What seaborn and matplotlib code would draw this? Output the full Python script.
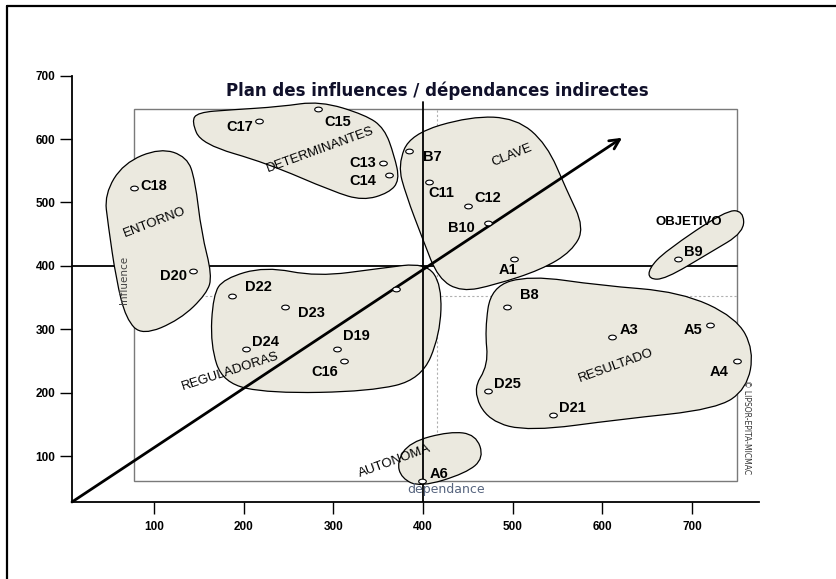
import numpy as np
import matplotlib
matplotlib.use("Agg")
import matplotlib.pyplot as plt
import seaborn as sns
from matplotlib.path import Path
from matplotlib.patches import PathPatch, Rectangle
from matplotlib.lines import Line2D
from matplotlib.transforms import Affine2D

# variables: indirect dependance (x) / influence (y)
names = ["A1", "A2", "A3", "A4", "A5", "A6", "B7", "B8", "B9", "B10",
         "C11", "C12", "C13", "C14", "C15", "C16", "C17", "C18",
         "D19", "D20", "D21", "D22", "D23", "D24", "D25"]
dependance = [501, 370, 611, 750, 720, 399, 384, 494, 684, 472,
              407, 450, 355, 362, 283, 312, 217, 78,
              304, 144, 545, 187, 246, 203, 472]
influence = [411, 364, 288, 250, 307, 61, 581, 335, 411, 468,
             532, 494, 562, 543, 647, 250, 628, 523,
             269, 392, 165, 353, 335, 269, 203]
# label offsets (points) from each point; None = label not shown
label_dx = [-4, None, 12, -13, -12, 12, 17, 16, 11, -19,
            9, 14, -14, -19, 14, -14, -14, 14,
            14, -14, 14, 19, 19, 14, 14]
label_dy = [-8, None, 5, -8, -4, 5, -4, 9, 5, -4,
            -8, 6, 0, -4, -9, -8, -4, 1,
            9, -4, 5, 6, -4, 5, 5]

# groups drawn as closed outlines (control points)
groups = {
    "DETERMINANTES": ([142, 153, 226, 300, 333, 362, 374, 368, 357, 336, 285, 241, 185, 149],
                      [628, 592, 562, 517, 503, 515, 535, 574, 617, 638, 660, 651, 646, 642]),
    "ENTORNO": ([45, 66, 107, 137, 146, 153, 165, 159, 129, 87, 69, 58, 49],
                [513, 562, 586, 572, 535, 452, 385, 356, 315, 290, 316, 378, 465]),
    "CLAVE": ([372, 386, 453, 504, 538, 560, 580, 566, 532, 480, 443, 417, 400, 381],
              [559, 608, 636, 633, 592, 520, 460, 423, 394, 370, 359, 380, 441, 512]),
    "OBJETIVO": ([652, 670, 737, 757, 758, 720, 670, 652],
                 [396, 423, 487, 487, 453, 421, 379, 379]),
    "REGULADORAS": ([178, 224, 282, 352, 403, 421, 419, 398, 341, 229, 177, 163, 166],
                    [380, 399, 383, 396, 405, 370, 291, 221, 202, 199, 215, 275, 354]),
    "RESULTADO": ([476, 519, 598, 687, 749, 769, 761, 727, 620, 519, 473, 455, 473, 469],
                  [367, 385, 369, 359, 319, 267, 206, 174, 158, 139, 155, 204, 244, 299]),
    "AUTONOMA": ([371, 385, 430, 459, 468, 448, 397, 376],
                 [91, 122, 139, 134, 97, 73, 51, 65]),
}
group_label_x = {"DETERMINANTES": 285, "ENTORNO": 101, "CLAVE": 499, "OBJETIVO": 696,
                 "REGULADORAS": 185, "RESULTADO": 615, "AUTONOMA": 369}
group_label_y = {"DETERMINANTES": 583, "ENTORNO": 469, "CLAVE": 575, "OBJETIVO": 469,
                 "REGULADORAS": 233, "RESULTADO": 242, "AUTONOMA": 92}
group_label_rot = {"DETERMINANTES": 20, "ENTORNO": 21, "CLAVE": 22, "OBJETIVO": 0,
                   "REGULADORAS": 18, "RESULTADO": 20, "AUTONOMA": 20}

axis_ticks = [100, 200, 300, 400, 500, 600, 700]
x_mid, y_mid = 400, 400
x_dash, y_dash = 416, 353
arrow_tip = (622, 602)


def blob(xs, ys):
    pts = np.column_stack([xs, ys]).astype(float)
    mids = (pts + np.roll(pts, -1, axis=0)) / 2
    verts = [mids[-1]]
    codes = [Path.MOVETO]
    for i in range(len(pts)):
        verts += [pts[i], mids[i]]
        codes += [Path.CURVE3, Path.CURVE3]
    return Path(verts, codes)


sns.set_style("white")
plt.rcParams['font.family'] = ['Liberation Sans', 'DejaVu Sans']
plt.rcParams.update({"text.color": "black", "xtick.color": "black",
                     "ytick.color": "black", "axes.labelcolor": "black"})

fig = plt.figure(figsize=(8.36, 5.79), dpi=100)
ax = fig.add_axes([0.0861, 0.1330, 0.8218, 0.7427])
xlim = (8.7, 774.6)
ylim = (27.6, 705.8)
ax.set_xlim(*xlim)
ax.set_ylim(*ylim)

# bounding box of the variables + mean lines
xmin, xmax = min(dependance), max(dependance)
ymin, ymax = min(influence), max(influence)
ax.add_patch(Rectangle((xmin, ymin), xmax - xmin, ymax - ymin, fill=False,
                       ec="#7a7a7a", lw=1.0, zorder=1))
ax.plot([x_dash, x_dash], [ymin, ymax], color="#b0b0b0", lw=0.8, ls=(0, (2, 2)), zorder=1)
ax.plot([xmin, xmax], [y_dash, y_dash], color="#b0b0b0", lw=0.8, ls=(0, (2, 2)), zorder=1)
ax.plot([xlim[0], xmax], [y_mid, y_mid], color="black", lw=1.3, zorder=1, clip_on=False)

for g, (gx, gy) in groups.items():
    ax.add_patch(PathPatch(blob(gx, gy), fc="#ebe9df", ec="black", lw=0.9, zorder=2))
    ax.text(group_label_x[g], group_label_y[g], g, rotation=group_label_rot[g],
            ha="center", va="center", fontsize=9.5,
            fontweight="bold" if g == "OBJETIVO" else "normal", zorder=5)

ax.plot([x_mid, x_mid], [ylim[0], 658], color="black", lw=1.3, zorder=3)
ax.annotate("", xy=arrow_tip, xytext=(xlim[0], ylim[0]),
            arrowprops=dict(arrowstyle="->,head_length=0.7,head_width=0.35",
                            lw=2, color="black", shrinkA=0, shrinkB=0), zorder=3)

ellipse = Path.unit_circle().transformed(Affine2D().scale(1, 0.62))
sns.scatterplot(x=dependance, y=influence, marker=ellipse, s=30, color="white",
                edgecolor="black", linewidth=0.8, ax=ax, zorder=4, legend=False)
for n, x, y, dx, dy in zip(names, dependance, influence, label_dx, label_dy):
    if dx is None:
        continue
    ax.annotate(n, (x, y), xytext=(dx, dy), textcoords="offset points",
                ha="center", va="center", fontsize=10.5, fontweight="bold", zorder=5)

ax.text(67, 378, "Influence", rotation=90, ha="center", va="center",
        fontsize=7.5, color="#444444", family="DejaVu Sans", zorder=5)
ax.text(426, 48, "dependance", ha="center", va="center", fontsize=9,
        color="#56647e", family="DejaVu Sans", zorder=5)
ax.text(761, 146, "© LIPSOR-EPITA-MICMAC", rotation=270, ha="center", va="center",
        fontsize=5.5, color="#333333", family="DejaVu Sans", zorder=5)

ax.set_xticks(axis_ticks)
ax.set_yticks(axis_ticks)
ax.tick_params(direction="out", length=8.6, width=1, color="black", labelcolor="black",
               labelsize=8.5, bottom=True, left=True)
ax.tick_params(axis="x", pad=5)
ax.tick_params(axis="y", pad=3.5)
for lab in ax.get_xticklabels() + ax.get_yticklabels():
    lab.set_fontweight("bold")
for s in ["top", "right"]:
    ax.spines[s].set_visible(False)
for s in ["left", "bottom"]:
    ax.spines[s].set_color("black")
    ax.spines[s].set_linewidth(1.3)
ax.spines["left"].set_bounds(ylim[0], 700)
ax.grid(False)

fig.text(0.523, 0.843, "Plan des influences / dépendances indirectes", ha="center",
         va="center", fontsize=12, fontweight="bold", color="#10102a", family="DejaVu Sans")

# outer frame (left and top edges visible)
fig.add_artist(Line2D([7 / 836, 7 / 836], [0, 1 - 6 / 579], color="black", lw=1.6))
fig.add_artist(Line2D([7 / 836, 1], [1 - 6 / 579, 1 - 6 / 579], color="black", lw=1.6))

fig.savefig("out.png", dpi=100)
